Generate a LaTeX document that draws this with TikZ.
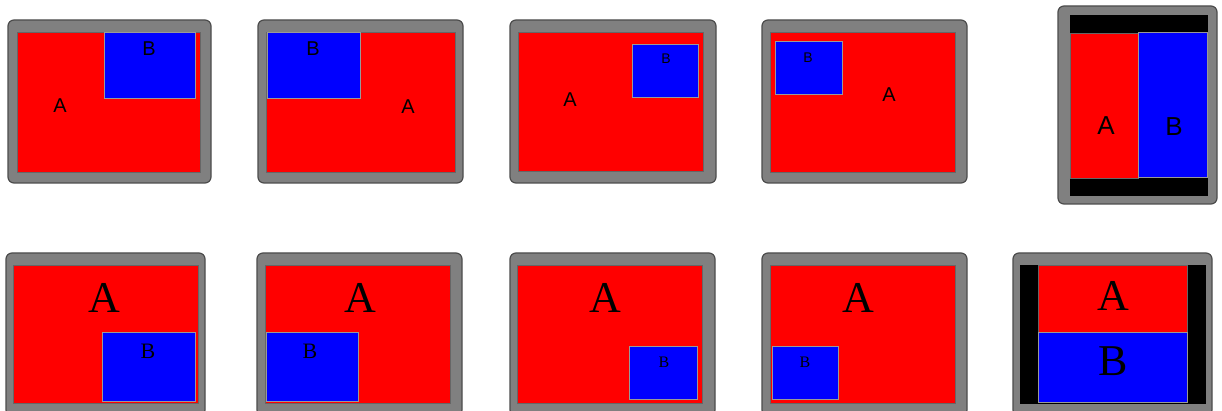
\documentclass[tikz,border=0pt]{standalone}
\usepackage{fontspec}
\usepackage{tikz}
\newfontfamily\labelsans{Liberation Sans}
\newfontfamily\labelserif{Liberation Serif}
\definecolor{framegray}{RGB}{128,128,128}
\definecolor{paneA}{RGB}{255,0,0}
\definecolor{paneB}{RGB}{0,0,255}

\begin{document}
\begin{tikzpicture}[
    x=0.5pt, y=-0.5pt,
    frame/.style={fill=framegray, draw=black!70, line width=0.6pt, rounded corners=3pt},
    black area/.style={fill=black},
    area A/.style={fill=paneA, draw=black!60, line width=0.4pt},
    area B/.style={fill=paneB, draw=gray!80, line width=0.5pt},
    lab/.style={inner sep=0pt, font=\labelsans\fontsize{10}{12}\selectfont},
    small lab/.style={inner sep=0pt, font=\labelsans\fontsize{7}{8}\selectfont},
    big lab/.style={inner sep=0pt, font=\labelsans\fontsize{13}{15}\selectfont},
    serif lab/.style={inner sep=0pt, font=\labelserif\fontsize{22}{25}\selectfont},
    serif small/.style={inner sep=0pt, font=\labelserif\fontsize{11}{13}\selectfont},
    serif tiny/.style={inner sep=0pt, font=\labelserif\fontsize{8}{9}\selectfont}
]
\useasboundingbox (0,0) rectangle (1222,411);

% Top row
\draw[frame] (8,20) rectangle (211,183);
\draw[area A] (17,32) rectangle (200,172);
\draw[area B] (104,33) rectangle (195,99);
\node[lab] (a1) at (60,106) {A};
\node[lab] (b1) at (149,49) {B};

\draw[frame] (258,20) rectangle (463,183);
\draw[area A] (266,32) rectangle (455,172);
\draw[area B] (267,33) rectangle (360,99);
\node[lab] (a2) at (408,107) {A};
\node[lab] (b2) at (313,49) {B};

\draw[frame] (510,20) rectangle (716,183);
\draw[area A] (518,32) rectangle (703,171);
\draw[area B] (632,45) rectangle (698,98);
\node[lab] (a3) at (570,100) {A};
\node[small lab] (b3) at (666,59) {B};

\draw[frame] (762,20) rectangle (967,183);
\draw[area A] (770,32) rectangle (955,172);
\draw[area B] (775,42) rectangle (842,95);
\node[lab] (a4) at (889,95) {A};
\node[small lab] (b4) at (808,58) {B};

\draw[frame] (1058,6) rectangle (1217,204);
\draw[black area] (1070,15) rectangle (1207,195);
\draw[area A] (1070,33) rectangle (1138,178);
\draw[area B] (1138,33) rectangle (1207,178);
\node[big lab] (a5) at (1106,126) {A};
\node[big lab] (b5) at (1174,127) {B};

% Bottom row
\draw[frame] (6,253) rectangle (205,416);
\draw[area A] (13,265) rectangle (198,403);
\draw[area B] (102,333) rectangle (195,402);
\node[serif lab] (a6) at (104,298) {A};
\node[serif small] (b6) at (148,351) {B};

\draw[frame] (257,253) rectangle (462,416);
\draw[area A] (265,265) rectangle (450,403);
\draw[area B] (266,333) rectangle (358,402);
\node[serif lab] (a7) at (360,298) {A};
\node[serif small] (b7) at (310,351) {B};

\draw[frame] (510,253) rectangle (715,416);
\draw[area A] (517,265) rectangle (702,403);
\draw[area B] (629,347) rectangle (697,400);
\node[serif lab] (a8) at (605,298) {A};
\node[serif tiny] (b8) at (664,362) {B};

\draw[frame] (762,253) rectangle (967,416);
\draw[area A] (770,265) rectangle (955,403);
\draw[area B] (772,347) rectangle (838,400);
\node[serif lab] (a9) at (858,298) {A};
\node[serif tiny] (b9) at (805,362) {B};

\draw[frame] (1013,253) rectangle (1212,416);
\draw[black area] (1020,265) rectangle (1205,403);
\draw[area A] (1038,265) rectangle (1187,333);
\draw[area B] (1038,333) rectangle (1187,403);
\node[serif lab] (a10) at (1113,296) {A};
\node[serif lab] (b10) at (1113,361) {B};

\end{tikzpicture}
\end{document}
